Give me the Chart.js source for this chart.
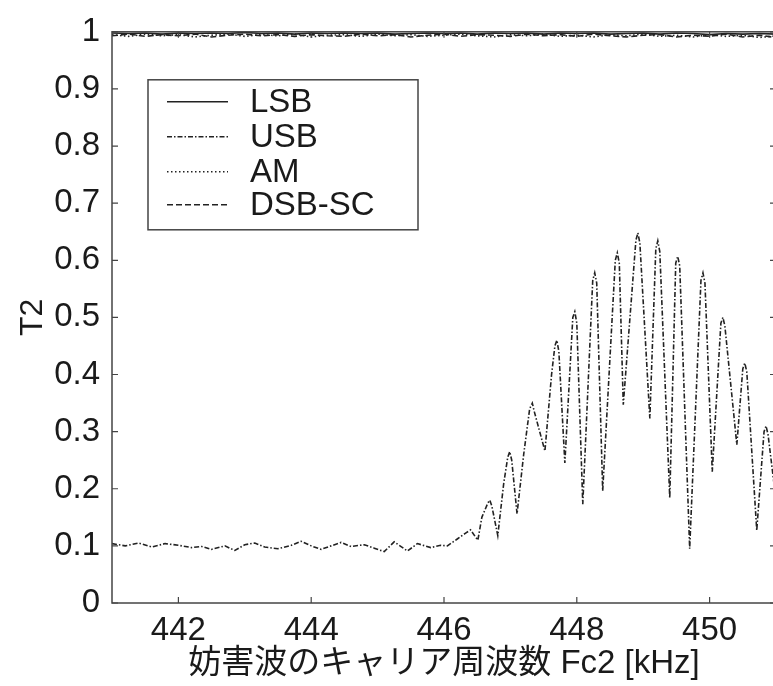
<!DOCTYPE html>
<html>
<head>
<meta charset="utf-8">
<script src="https://cdn.jsdelivr.net/npm/chart.js@4.4.1/dist/chart.umd.min.js"></script>
<style>
  html, body { margin: 0; padding: 0; background: #fff; }
  #wrap { width: 773px; height: 686px; overflow: hidden; }
  canvas { display: block; }
</style>
</head>
<body>
<div id="wrap"><canvas id="chart" width="790" height="686"></canvas></div>
<script>
// carrier sweep for the three modes that stay near 1
var topFreq = [441, 441.25, 441.5, 441.75, 442, 442.25, 442.5, 442.75, 443, 443.25,
  443.5, 443.75, 444, 444.25, 444.5, 444.75, 445, 445.25, 445.5, 445.75,
  446, 446.25, 446.5, 446.75, 447, 447.25, 447.5, 447.75, 448, 448.25,
  448.5, 448.75, 449, 449.25, 449.5, 449.75, 450, 450.25, 450.5, 450.75, 451]

var lsbT2 = [0.998, 0.997, 0.998, 0.996, 0.998, 0.997, 0.998, 0.997, 0.999, 0.997,
  0.998, 0.996, 0.998, 0.997, 0.998, 0.997, 0.998, 0.996, 0.997, 0.998,
  0.997, 0.998, 0.996, 0.998, 0.997, 0.998, 0.996, 0.998, 0.997, 0.998,
  0.996, 0.997, 0.998, 0.996, 0.998, 0.997, 0.995, 0.997, 0.996, 0.997, 0.996]

var amT2 = [0.995, 0.992, 0.996, 0.993, 0.995, 0.991, 0.994, 0.996, 0.992, 0.995,
  0.993, 0.996, 0.991, 0.994, 0.995, 0.992, 0.996, 0.993, 0.995, 0.992,
  0.994, 0.996, 0.993, 0.991, 0.995, 0.993, 0.996, 0.992, 0.994, 0.991,
  0.995, 0.993, 0.996, 0.992, 0.994, 0.991, 0.995, 0.992, 0.994, 0.990, 0.993]

var dsbT2 = [0.993, 0.996, 0.992, 0.995, 0.993, 0.996, 0.991, 0.994, 0.996, 0.993,
  0.995, 0.992, 0.995, 0.993, 0.992, 0.996, 0.993, 0.995, 0.991, 0.994,
  0.996, 0.992, 0.995, 0.994, 0.992, 0.996, 0.993, 0.995, 0.992, 0.996,
  0.993, 0.991, 0.994, 0.995, 0.991, 0.994, 0.992, 0.996, 0.991, 0.994, 0.990]

// USB: flat around 0.1, then oscillating once Fc2 passes ~446.5 kHz
var usbFreq = [441.0, 441.2, 441.4, 441.6, 441.8, 442.0, 442.2, 442.35, 442.5, 442.7,
  442.85, 443.0, 443.15, 443.3, 443.5, 443.7, 443.85, 444.0, 444.15, 444.3,
  444.45, 444.6, 444.8, 444.95, 445.1, 445.25, 445.45, 445.6, 445.8, 445.95,
  446.05, 446.2, 446.32, 446.4, 446.46,
  446.51, 446.57, 446.66, 446.69, 446.72, 446.81, 446.90, 446.96, 446.99, 447.02,
  447.10, 447.20, 447.29, 447.33, 447.36, 447.52, 447.62, 447.67, 447.70, 447.73,
  447.82, 447.94, 447.97, 448.00, 448.09, 448.24, 448.27, 448.30, 448.39, 448.58,
  448.61, 448.64, 448.70, 448.89, 448.92, 448.95, 449.10, 449.19, 449.22, 449.25,
  449.40, 449.49, 449.52, 449.55, 449.70, 449.87, 449.90, 449.93, 450.04, 450.17,
  450.20, 450.23, 450.41, 450.50, 450.53, 450.56, 450.71, 450.82, 450.85, 450.88,
  451.00]

var usbT2 = [0.104, 0.100, 0.105, 0.098, 0.104, 0.101, 0.097, 0.099, 0.094, 0.100,
  0.092, 0.102, 0.105, 0.098, 0.095, 0.101, 0.108, 0.100, 0.094, 0.100,
  0.106, 0.099, 0.102, 0.096, 0.090, 0.107, 0.091, 0.104, 0.097, 0.101,
  0.100, 0.112, 0.122, 0.128, 0.118,
  0.110, 0.150, 0.175, 0.180, 0.170, 0.118, 0.210, 0.255, 0.265, 0.250,
  0.156, 0.260, 0.340, 0.350, 0.335, 0.266, 0.400, 0.450, 0.460, 0.440,
  0.245, 0.500, 0.510, 0.490, 0.173, 0.565, 0.578, 0.560, 0.196, 0.600,
  0.613, 0.595, 0.347, 0.635, 0.648, 0.630, 0.323, 0.620, 0.634, 0.615,
  0.184, 0.595, 0.607, 0.590, 0.095, 0.565, 0.578, 0.560, 0.230, 0.490,
  0.500, 0.485, 0.277, 0.410, 0.420, 0.405, 0.127, 0.300, 0.310, 0.295,
  0.180]

var xTicks = [442, 444, 446, 448, 450]

function pairs(xs, ys) {
  return xs.map(function (x, i) { return { x: x, y: ys[i] } })
}

Chart.defaults.font.family = "'Liberation Sans', Arial, 'Noto Sans CJK JP', sans-serif"
Chart.defaults.color = '#1a1a1a'

// box around the axes with inward ticks on all four sides
var frameTicks = {
  id: 'frameTicks',
  afterDatasetsDraw: function (chart) {
    var ctx = chart.ctx, a = chart.chartArea
    var x = chart.scales.x, y = chart.scales.y
    ctx.save()
    ctx.strokeStyle = '#444'
    ctx.lineWidth = 1.5
    ctx.strokeRect(a.left, a.top, a.right - a.left, a.bottom - a.top)
    ctx.lineWidth = 1.2
    ctx.beginPath()
    x.ticks.forEach(function (t) {
      var px = x.getPixelForValue(t.value)
      ctx.moveTo(px, a.bottom); ctx.lineTo(px, a.bottom - 6)
      ctx.moveTo(px, a.top); ctx.lineTo(px, a.top + 6)
    })
    y.ticks.forEach(function (t) {
      var py = y.getPixelForValue(t.value)
      ctx.moveTo(a.left, py); ctx.lineTo(a.left + 6, py)
      ctx.moveTo(a.right, py); ctx.lineTo(a.right - 6, py)
    })
    ctx.stroke()
    ctx.restore()
  }
}

// boxed legend inside the plot, upper left
var boxLegend = {
  id: 'boxLegend',
  afterDraw: function (chart, args, opts) {
    var ctx = chart.ctx, a = chart.chartArea
    var bx = a.left + opts.left, by = a.top + opts.top
    ctx.save()
    ctx.fillStyle = '#fff'
    ctx.fillRect(bx, by, opts.width, opts.height)
    ctx.strokeStyle = '#444'
    ctx.lineWidth = 1.5
    ctx.strokeRect(bx, by, opts.width, opts.height)
    ctx.font = opts.fontSize + 'px ' + Chart.defaults.font.family
    ctx.textBaseline = 'middle'
    chart.data.datasets.forEach(function (ds, i) {
      var ry = by + opts.rows[i]
      ctx.strokeStyle = ds.borderColor
      ctx.lineWidth = ds.borderWidth
      ctx.setLineDash(ds.borderDash || [])
      ctx.beginPath()
      ctx.moveTo(bx + 19, ry)
      ctx.lineTo(bx + 80, ry)
      ctx.stroke()
      ctx.setLineDash([])
      ctx.fillStyle = '#1a1a1a'
      ctx.fillText(ds.label, bx + 102, ry + 1)
    })
    ctx.restore()
  }
}

var lineColor = '#222'

new Chart(document.getElementById('chart'), {
  type: 'line',
  data: {
    datasets: [
      { label: 'LSB', data: pairs(topFreq, lsbT2), borderDash: [] },
      { label: 'USB', data: pairs(usbFreq, usbT2), borderDash: [5, 2, 1.5, 2] },
      { label: 'AM', data: pairs(topFreq, amT2), borderDash: [1.5, 2.5] },
      { label: 'DSB-SC', data: pairs(topFreq, dsbT2), borderDash: [6, 3] }
    ].map(function (ds) {
      ds.borderColor = lineColor
      ds.borderWidth = 1.6
      ds.pointRadius = 0
      ds.tension = 0
      ds.fill = false
      return ds
    })
  },
  options: {
    responsive: false,
    animation: false,
    events: [],
    layout: { padding: { left: 0, top: 27, right: 14, bottom: 0 } },
    plugins: {
      legend: { display: false },
      tooltip: { enabled: false },
      boxLegend: { left: 36, top: 48, width: 270, height: 150, rows: [22, 57, 92, 125], fontSize: 33 }
    },
    scales: {
      x: {
        type: 'linear',
        min: 441,
        max: 451,
        afterBuildTicks: function (scale) {
          scale.ticks = xTicks.map(function (v) { return { value: v } })
        },
        afterFit: function (scale) { scale.height = 83 },
        grid: { display: false, drawTicks: false },
        border: { display: false },
        ticks: { font: { size: 33 }, padding: 8, maxRotation: 0 },
        title: {
          display: true,
          text: '妨害波のキャリア周波数 Fc2 [kHz]',
          font: { size: 33 },
          padding: { top: 0, bottom: 2 }
        }
      },
      y: {
        min: 0,
        max: 1,
        afterFit: function (scale) { scale.width = 112 },
        grid: { display: false, drawTicks: false },
        border: { display: false },
        ticks: {
          stepSize: 0.1,
          font: { size: 33 },
          padding: 12,
          callback: function (v) { return String(+v.toFixed(1)) }
        },
        title: {
          display: true,
          text: 'T2',
          font: { size: 32 },
          padding: { top: 14, bottom: 0 }
        }
      }
    }
  },
  plugins: [frameTicks, boxLegend]
})
</script>
</body>
</html>
